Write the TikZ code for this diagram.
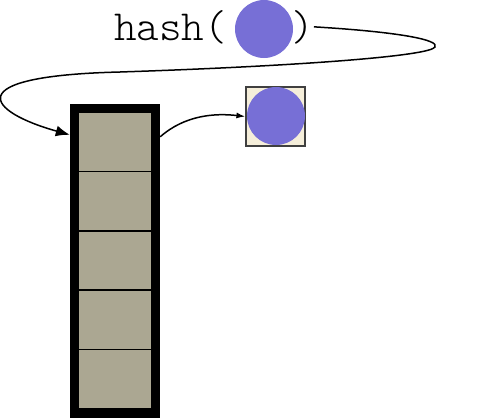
\documentclass[tikz,border=0pt]{standalone}
\usepackage{fontspec}
\setmonofont{lmmonolt10-regular.otf}
\usetikzlibrary{arrows.meta}
\usetikzlibrary{positioning}
\definecolor{slotgray}{RGB}{171,167,146}
\definecolor{keycream}{RGB}{245,238,218}
\definecolor{keyblue}{RGB}{119,111,214}
\tikzset{
    slot/.style={draw=black, line width=1.5pt, fill=slotgray, minimum width=74, minimum height=59.4, inner sep=0, outer sep=0},
    key/.style={circle, fill=keyblue, minimum size=58, inner sep=0},
    hashfont/.style={font=\ttfamily\fontsize{43}{45}\selectfont, inner sep=0},
}

\begin{document}
\begin{tikzpicture}[x=1pt, y=-1pt] % hash table bucket
	\useasboundingbox (0,0) rectangle (493,418);
	\node[fill=black, minimum width=90, minimum height=314, inner sep=0] (bucket) at (115,261) {};
	\foreach \i in {0,...,4} {
		\node[slot] (slot\i) at (115, {141.7+59.4*\i}) {};
	}
	\node[draw=black!75, fill=keycream, minimum size=59, inner sep=0, line width=1.2pt] (stored) at (275.5,116.5) {};
	\node[key] (storedkey) at (276,116) {};
	\node[hashfont, anchor=base west] (hashword) at (114,40) {hash(};
	\node[key] (hashkey) at (264,29) {};
	\node[hashfont, anchor=base west] (hashclose) at (291,40) {)};
	\draw[line width=1.5pt, -{Latex[length=14, width=11]}] (hashclose.east) .. controls (400,32) and (440,40) .. (435,47)
		.. controls (430,56) and (300,66) .. (120,72)
		.. controls (-45,76) and (-12,112) .. ([yshift=-31pt]bucket.north west);
	\draw[line width=1.5pt, -{Latex[length=9, width=6]}] ([yshift=-33pt]bucket.north east) .. controls (185,115) and (215,113) .. (stored.west);
\end{tikzpicture}
\end{document}
